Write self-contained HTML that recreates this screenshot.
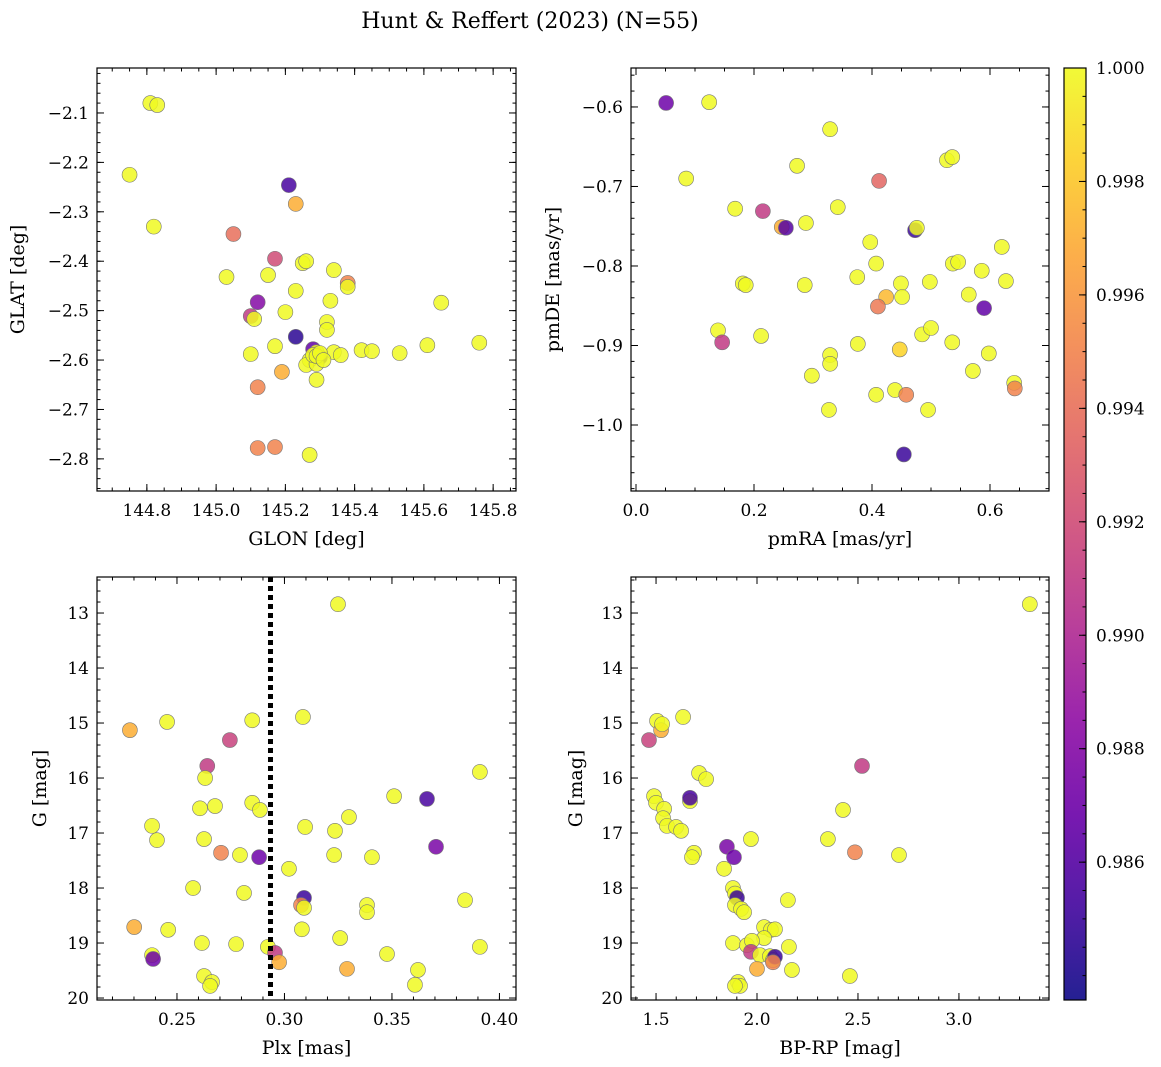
<!DOCTYPE html>
<html><head><meta charset="utf-8"><style>
body{margin:0;background:#fff;}
svg{display:block;font-family:"DejaVu Serif","Liberation Serif",serif;}
</style></head><body>
<svg id="fig" width="1161" height="1067" viewBox="0 0 1161 1067">
<text x="530" y="28" font-size="22" text-anchor="middle">Hunt &amp; Reffert (2023) (N=55)</text>
</svg>
<script>
// Panel 1: GLON vs GLAT
const glon=[144.81,144.83,144.75,144.82,145.21,145.23,145.05,145.17,145.03,145.15,145.25,145.26,145.23,145.34,145.38,145.38,145.12,145.10,145.11,145.20,145.33,145.65,145.23,145.32,145.32,145.10,145.17,145.28,145.30,145.29,145.27,145.26,145.29,145.28,145.29,145.34,145.36,145.42,145.45,145.53,145.61,145.76,145.19,145.29,145.12,145.12,145.17,145.27,145.30,145.31];
const glat=[-2.08,-2.084,-2.225,-2.33,-2.246,-2.284,-2.345,-2.395,-2.432,-2.428,-2.404,-2.40,-2.46,-2.418,-2.444,-2.452,-2.483,-2.511,-2.517,-2.503,-2.48,-2.484,-2.553,-2.523,-2.539,-2.588,-2.572,-2.578,-2.594,-2.584,-2.60,-2.61,-2.608,-2.59,-2.592,-2.584,-2.59,-2.58,-2.582,-2.586,-2.57,-2.565,-2.624,-2.64,-2.655,-2.778,-2.776,-2.792,-2.586,-2.60];
const prob1=[1,1,1,1,0.9855,0.997,0.994,0.992,1,1,1,1,1,1,0.995,1,0.988,0.991,1,1,1,1,0.9845,1,1,1,1,0.9865,0.985,1,1,1,1,1,1,1,1,1,1,1,1,1,0.997,1,0.995,0.995,0.995,1,1,1];
// Panel 2: pmRA vs pmDE
const pmra=[0.051,0.124,0.329,0.085,0.273,0.412,0.527,0.536,0.168,0.215,0.247,0.254,0.288,0.342,0.473,0.476,0.397,0.620,0.407,0.375,0.537,0.546,0.586,0.181,0.186,0.286,0.424,0.449,0.451,0.498,0.564,0.627,0.410,0.590,0.139,0.212,0.146,0.376,0.485,0.500,0.536,0.447,0.598,0.329,0.329,0.298,0.571,0.641,0.642,0.439,0.407,0.458,0.327,0.495,0.454];
const pmde=[-0.595,-0.594,-0.628,-0.690,-0.674,-0.693,-0.667,-0.663,-0.728,-0.731,-0.751,-0.752,-0.746,-0.726,-0.755,-0.752,-0.770,-0.776,-0.797,-0.814,-0.797,-0.795,-0.806,-0.822,-0.824,-0.824,-0.839,-0.822,-0.839,-0.820,-0.836,-0.819,-0.851,-0.853,-0.881,-0.888,-0.896,-0.898,-0.886,-0.878,-0.896,-0.905,-0.910,-0.912,-0.923,-0.938,-0.932,-0.947,-0.954,-0.956,-0.962,-0.962,-0.981,-0.981,-1.037];
const prob2=[0.987,1,1,1,1,0.9935,1,1,1,0.991,0.997,0.986,1,1,0.985,1,1,1,1,1,1,1,1,1,1,1,0.9975,1,1,1,1,1,0.9945,0.9865,1,1,0.991,1,1,1,1,0.9985,1,1,1,1,1,1,0.995,1,1,0.995,1,1,0.985];
// Panel 3: Plx vs G
const plx=[0.3249,0.2281,0.2454,0.2850,0.3086,0.2746,0.2641,0.2631,0.2607,0.2677,0.2850,0.2886,0.3510,0.3663,0.3909,0.2384,0.2407,0.2626,0.3096,0.3300,0.3235,0.2705,0.2793,0.2882,0.3021,0.3231,0.3407,0.3705,0.2575,0.2812,0.3091,0.3077,0.3091,0.3384,0.3384,0.3840,0.2301,0.2459,0.3081,0.3259,0.2616,0.2775,0.2923,0.3909,0.2384,0.2389,0.3477,0.2956,0.2975,0.3291,0.3621,0.2626,0.2663,0.2654,0.3607];
const gmag3=[12.84,15.13,14.98,14.95,14.89,15.31,15.78,16.0,16.55,16.51,16.45,16.58,16.33,16.38,15.89,16.87,17.13,17.11,16.89,16.71,16.96,17.36,17.40,17.44,17.65,17.40,17.44,17.25,18.0,18.09,18.18,18.31,18.36,18.31,18.44,18.22,18.71,18.76,18.75,18.91,19.0,19.02,19.07,19.07,19.22,19.29,19.2,19.18,19.35,19.47,19.49,19.6,19.71,19.78,19.76];
const prob3=[1,0.997,1,1,1,0.9915,0.991,1,1,1,1,1,1,0.9855,1,1,1,1,1,1,1,0.995,1,0.987,1,1,1,0.9875,1,1,0.985,0.995,1,1,1,1,0.997,1,1,1,1,1,1,1,1,0.987,1,0.991,0.997,0.997,1,1,1,1,1];
const plxCut=[0.2935];
// Panel 4: BP-RP vs G
const bprp=[3.351,1.465,1.505,1.525,1.530,1.634,1.490,1.500,1.540,1.668,1.668,1.713,1.748,2.520,1.535,1.554,1.599,1.624,1.970,2.351,2.426,1.851,1.886,1.688,1.678,2.485,2.703,1.837,1.881,1.891,1.901,2.153,1.891,1.921,1.936,2.035,2.069,2.089,2.035,1.881,1.950,1.975,2.158,1.970,2.015,2.064,2.079,2.089,2.079,2.0,2.173,2.460,1.906,1.916,1.891];
const gmag4=[12.84,15.31,14.96,15.13,15.02,14.89,16.33,16.45,16.56,16.42,16.36,15.91,16.02,15.78,16.73,16.87,16.89,16.96,17.11,17.11,16.58,17.25,17.44,17.36,17.44,17.35,17.40,17.65,18.0,18.1,18.18,18.22,18.31,18.38,18.44,18.71,18.76,18.75,18.91,19.0,19.04,18.96,19.07,19.16,19.22,19.24,19.31,19.25,19.35,19.47,19.49,19.6,19.71,19.78,19.78];
const prob4=[1,0.9915,1,0.997,1,1,1,1,1,1,0.9855,1,1,0.991,1,1,1,1,1,1,1,0.9875,0.987,1,1,0.995,1,1,1,1,0.985,1,1,1,1,1,1,1,1,1,1,1,1,0.991,1,1,1,0.985,0.995,0.997,1,1,1,1,1];
const cbTicks=[0.986,0.988,0.990,0.992,0.994,0.996,0.998,1.000];

const NS="http://www.w3.org/2000/svg";
const svg=document.getElementById('fig');
const VMIN=0.98357,VMAX=1.0;
const stops=["#0d0887","#41049d","#6a00a8","#8f0da4","#b12a90","#cc4778","#e16462","#f2844b","#fca636","#fcce25","#f0f921"];
function hex(h){return [1,3,5].map(i=>parseInt(h.substr(i,2),16));}
function plasma(t){t=Math.max(0,Math.min(1,t));const f=t*10,i=Math.min(9,Math.floor(f)),u=f-i;const a=hex(stops[i]),b=hex(stops[i+1]);return "rgb("+a.map((v,k)=>Math.round(v+(b[k]-v)*u)).join(",")+")";}
function cmap(p){return plasma((p-VMIN)/(VMAX-VMIN));}
function mk(tag,attrs,parent){const e=document.createElementNS(NS,tag);for(const k in attrs)e.setAttribute(k,attrs[k]);(parent||svg).appendChild(e);return e;}
function fmt(v,d){return (v<0?"\u2212":"")+Math.abs(v).toFixed(d);}

function panel(o){
  const g=mk('g',{});
  
  
  const sx=v=>o.x0+(v-o.xmin)/(o.xmax-o.xmin)*(o.x1-o.x0);
  const sy=o.yrev?(v=>o.y0+(v-o.ymin)/(o.ymax-o.ymin)*(o.y1-o.y0)):(v=>o.y1-(v-o.ymin)/(o.ymax-o.ymin)*(o.y1-o.y0));
  const pg=mk('g',{},g);
  
  
  if(o.vline){const l=mk('line',{x1:sx(o.vline[0]),x2:sx(o.vline[0]),y1:o.y0,y2:o.y1,stroke:'#000','stroke-width':5,'stroke-dasharray':'5,4'},g);
    
    }
  for(let i=0;i<o.xs.length;i++){
    const c=mk('circle',{cx:sx(o.xs[i]),cy:sy(o.ys[i]),r:7.5,fill:cmap(o.c[i]),'fill-opacity':0.85,stroke:'#777','stroke-width':0.6},pg);
    
    
  }
  const tg=mk('g',{stroke:'#000','stroke-width':1},g);
  function ticks(min,max,step,fn){const out=[];const s=Math.ceil(min/step-1e-6);for(let k=s;k*step<=max+1e-9;k++)out.push(k*step);out.forEach(fn);}
  ticks(o.xmin,o.xmax,o.xminor,v=>{const x=sx(v);mk('line',{x1:x,x2:x,y1:o.y1,y2:o.y1-3.5},tg);mk('line',{x1:x,x2:x,y1:o.y0,y2:o.y0+3.5},tg);});
  ticks(o.ymin,o.ymax,o.yminor,v=>{const y=sy(v);mk('line',{x1:o.x0,x2:o.x0+3.5,y1:y,y2:y},tg);mk('line',{x1:o.x1,x2:o.x1-3.5,y1:y,y2:y},tg);});
  ticks(o.xmin,o.xmax,o.xmajor,v=>{const x=sx(v);mk('line',{x1:x,x2:x,y1:o.y1,y2:o.y1-7},tg);mk('line',{x1:x,x2:x,y1:o.y0,y2:o.y0+7},tg);
    const t=mk('text',{x:x,y:o.y1+25,'font-size':17,'text-anchor':'middle'},g);t.textContent=fmt(v,o.xd);
    
    });
  ticks(o.ymin,o.ymax,o.ymajor,v=>{const y=sy(v);mk('line',{x1:o.x0,x2:o.x0+7,y1:y,y2:y},tg);mk('line',{x1:o.x1,x2:o.x1-7,y1:y,y2:y},tg);
    const t=mk('text',{x:o.x0-8,y:y+6,'font-size':17,'text-anchor':'end'},g);t.textContent=fmt(v,o.yd);
    
    });
  const fr=mk('rect',{x:o.x0,y:o.y0,width:o.x1-o.x0,height:o.y1-o.y0,fill:'none',stroke:'#000','stroke-width':1.2},g);
  
  
  const xl=mk('text',{x:(o.x0+o.x1)/2,y:o.y1+54,'font-size':19,'text-anchor':'middle'},g);xl.textContent=o.xlabel;
  
  
  const cy=(o.y0+o.y1)/2;
  const yl=mk('text',{x:o.ylx,y:cy,'font-size':19,'text-anchor':'middle',transform:`rotate(-90 ${o.ylx} ${cy})`},g);yl.textContent=o.ylabel;
  
  
}
panel({name:'glon-glat-panel',x0:97,x1:516,y0:68,y1:491,xmin:144.656,xmax:145.866,ymin:-2.865,ymax:-2.009,xmajor:0.2,xminor:0.05,ymajor:0.1,yminor:0.02,xd:1,yd:1,xs:glon,ys:glat,c:prob1,xlabel:'GLON [deg]',ylabel:'GLAT [deg]',ylx:24});
panel({name:'proper-motion-panel',x0:631,x1:1049,y0:68,y1:491,xmin:-0.0085,xmax:0.7,ymin:-1.083,ymax:-0.551,xmajor:0.2,xminor:0.05,ymajor:0.1,yminor:0.02,xd:1,yd:1,xs:pmra,ys:pmde,c:prob2,xlabel:'pmRA [mas/yr]',ylabel:'pmDE [mas/yr]',ylx:559});
panel({name:'plx-g-panel',x0:97,x1:516,y0:577,y1:1000,xmin:0.2128,xmax:0.4077,ymin:12.345,ymax:20.036,yrev:true,xmajor:0.05,xminor:0.01,ymajor:1,yminor:0.2,xd:2,yd:0,xs:plx,ys:gmag3,c:prob3,vline:plxCut,xlabel:'Plx [mas]',ylabel:'G [mag]',ylx:46});
panel({name:'cmd-panel',x0:631,x1:1049,y0:577,y1:1000,xmin:1.376,xmax:3.446,ymin:12.345,ymax:20.036,yrev:true,xmajor:0.5,xminor:0.1,ymajor:1,yminor:0.2,xd:1,yd:0,xs:bprp,ys:gmag4,c:prob4,xlabel:'BP-RP [mag]',ylabel:'G [mag]',ylx:582});

(function(){
  const x0=1064,x1=1086,y0=68,y1=1000;
  const g=mk('g',{});
  
  
  const defs=mk('defs',{},g);
  const lg=mk('linearGradient',{id:'pl',x1:0,y1:1,x2:0,y2:0},defs);
  stops.forEach((s,i)=>mk('stop',{offset:i/10,'stop-color':s},lg));
  mk('rect',{x:x0,y:y0,width:x1-x0,height:y1-y0,fill:'url(#pl)','fill-opacity':0.9},g);
  mk('rect',{x:x0,y:y0,width:x1-x0,height:y1-y0,fill:'none',stroke:'#000','stroke-width':1.2},g);
  const sy=v=>y1-(v-VMIN)/(VMAX-VMIN)*(y1-y0);
  for(let v=0.9840;v<=1.00001;v+=0.0005){const y=sy(v);mk('line',{x1:x1,x2:x1-3.5,y1:y,y2:y,stroke:'#000'},g);}
  cbTicks.forEach(v=>{const y=sy(v);mk('line',{x1:x1,x2:x1-7,y1:y,y2:y,stroke:'#000'},g);
    const t=mk('text',{x:x1+10,y:y+6,'font-size':17},g);t.textContent=v.toFixed(3);
    
    });
})();
</script>
</body></html>
